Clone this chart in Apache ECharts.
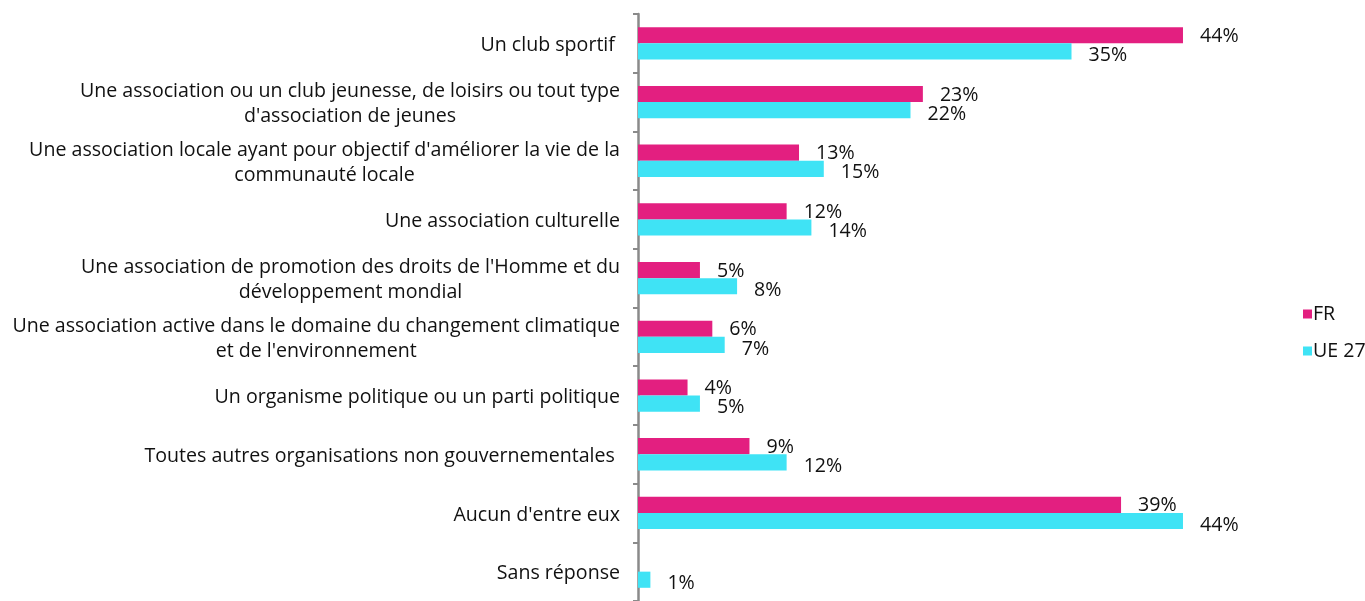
<!DOCTYPE html>
<html>
<head>
<meta charset="utf-8">
<script src="https://cdn.jsdelivr.net/npm/echarts@6/dist/echarts.min.js"></script>
<style>html,body{margin:0;padding:0;background:#fff}#c{width:1365px;height:601px}</style>
</head>
<body>
<div id="c"></div>
<script>
var categories = [
  "Un club sportif ",
  "Une association ou un club jeunesse, de loisirs ou tout type\nd'association de jeunes",
  "Une association locale ayant pour objectif d'améliorer la vie de la\ncommunauté locale",
  "Une association culturelle",
  "Une association de promotion des droits de l'Homme et du\ndéveloppement mondial",
  "Une association active dans le domaine du changement climatique\net de l'environnement",
  "Un organisme politique ou un parti politique",
  "Toutes autres organisations non gouvernementales ",
  "Aucun d'entre eux",
  "Sans réponse"
];
var seriesNames = ["FR", "UE 27"];
var frValues = [44, 23, 13, 12, 5, 6, 4, 9, 39, null];
var ueValues = [35, 22, 15, 14, 8, 7, 5, 12, 44, 1];

var FONT = "Open Sans";
var FS = 19.6;
var chart = echarts.init(document.getElementById('c'));
chart.setOption({
  animation: false,
  textStyle: { fontFamily: FONT },
  grid: { left: 638, right: 107.7, top: 14, bottom: -7, containLabel: false },
  legend: {
    orient: 'vertical',
    left: 1298,
    top: 299,
    itemWidth: 9,
    itemHeight: 9,
    itemGap: 17,
    icon: 'rect',
    textStyle: { fontSize: FS, color: '#111', fontFamily: FONT, padding: [0, 0, 0, -4] },
    data: seriesNames
  },
  xAxis: {
    type: 'value', min: 0, max: 50, show: false
  },
  yAxis: {
    type: 'category',
    inverse: true,
    data: categories,
    axisLine: { show: true, lineStyle: { color: '#8a8a8a', width: 2.5 } },
    axisTick: { show: true, length: 5, lineStyle: { color: '#8a8a8a', width: 2 } },
    axisLabel: {
      margin: 18,
      color: '#111',
      fontSize: FS,
      fontFamily: FONT,
      formatter: function (v) {
        return v.split('\n').map(function (l) { return '{c|' + l + '}'; }).join('\n');
      },
      rich: { c: { align: 'center', fontSize: FS, lineHeight: 25, fontFamily: FONT, color: '#111', padding: [4, 0, 0, 0] } }
    }
  },
  series: [
    {
      name: seriesNames[0], type: 'bar', data: frValues,
      barGap: '0%', barCategoryGap: '45%',
      itemStyle: { color: '#E31F80' },
      label: { show: true, position: 'right', distance: 17, offset: [0, 1], formatter: '{c}%', fontSize: FS, color: '#111', fontFamily: FONT }
    },
    {
      name: seriesNames[1], type: 'bar', data: ueValues,
      barGap: '0%', barCategoryGap: '45%',
      itemStyle: { color: '#3FE3F5' },
      label: { show: true, position: 'right', distance: 17, offset: [0, 4], formatter: '{c}%', fontSize: FS, color: '#111', fontFamily: FONT }
    }
  ]
});
</script>
</body>
</html>
